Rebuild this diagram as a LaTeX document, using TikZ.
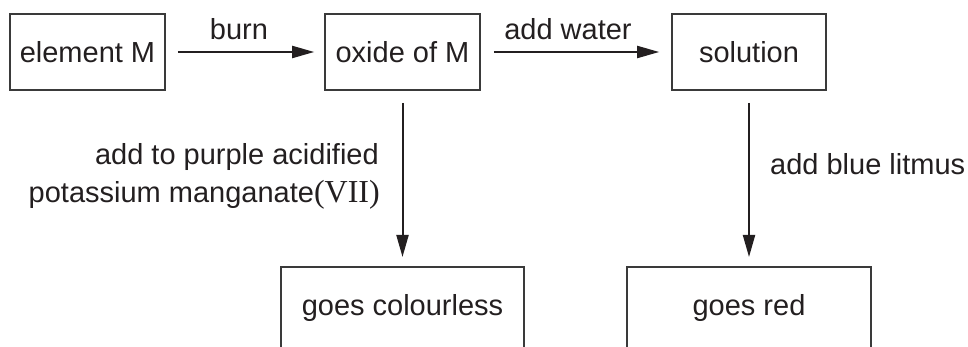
\documentclass[tikz,border=0pt]{standalone}
\usepackage{fontspec}
\setmainfont{Liberation Sans}
\newfontfamily\romanfont{Liberation Serif}
\usetikzlibrary{arrows.meta}
\definecolor{ink}{HTML}{231F20}
\definecolor{boxline}{HTML}{3A3A3A}
\tikzset{
  txt/.style={font=\fontsize{29}{35}\selectfont, text=ink, inner sep=0pt},
  box/.style={draw=boxline, line width=1.6pt, inner sep=0pt, font=\fontsize{29}{35}\selectfont, text=ink},
  arr/.style={draw=ink, line width=2pt, -{Triangle[length=22pt,width=12pt]}},
}
\begin{document}
\begin{tikzpicture}[x=1pt,y=-1pt]
\useasboundingbox (0,0) rectangle (968,347);
\clip (0,0) rectangle (968,347);
% top boxes
\node[box, minimum width=155pt, minimum height=76pt] (elem) at (87.5,52) {element M};
\node[box, minimum width=155pt, minimum height=76pt] (oxide) at (402.5,52) {oxide of M};
\node[box, minimum width=154pt, minimum height=76pt] (sol) at (749,52) {solution};
% bottom boxes (cut by the lower edge)
\node[box, minimum width=243pt, minimum height=110pt, anchor=north] (colless) at (402.5,266) {};
\node[box, minimum width=244pt, minimum height=110pt, anchor=north] (red) at (749,266) {};
\node[txt, anchor=base] (collesstxt) at (402.5,315) {goes colourless};
\node[txt, anchor=base] (redtxt) at (749,315) {goes red};
% arrows
\draw[arr, shorten <=12pt, shorten >=10pt] (elem.east) -- (oxide.west);
\draw[arr, shorten <=13pt, shorten >=12pt] (oxide.east) -- (sol.west);
\draw[arr, shorten <=12pt, shorten >=9pt] (oxide.south) -- (colless.north);
\draw[arr, shorten <=12pt, shorten >=9pt] (sol.south) -- (red.north);
% labels
\node[txt, anchor=base] (burn) at (239,40) {burn};
\node[txt, anchor=base] (water) at (568,40) {add water};
\node[txt, anchor=base east] (purpleA) at (379,165) {add to purple acidified};
\node[txt, anchor=base east] (purpleB) at (380,203) {potassium manganate{\romanfont\fontsize{32}{38}\selectfont(VII)}};
\node[txt, anchor=base west] (litmus) at (770,175) {add blue litmus};
\end{tikzpicture}
\end{document}
